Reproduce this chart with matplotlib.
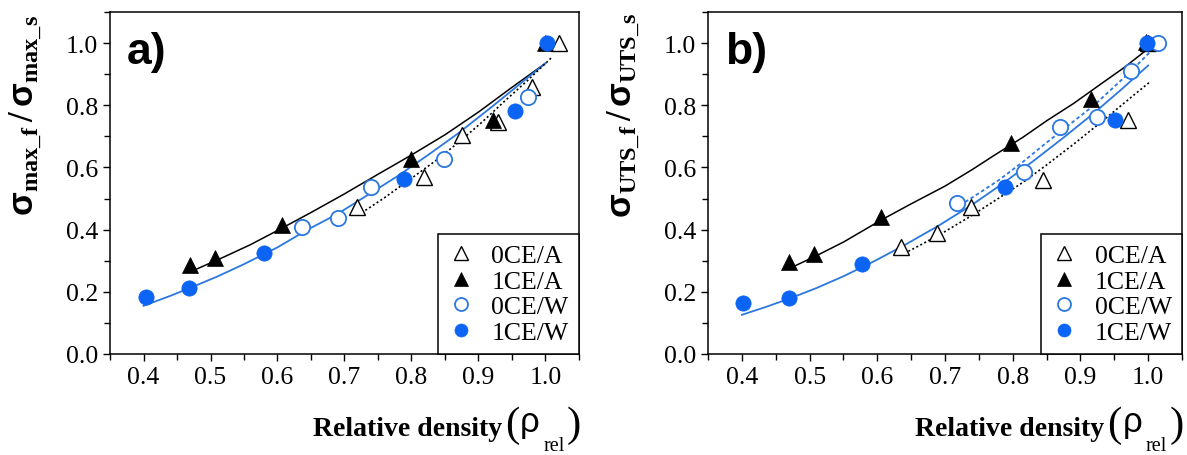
import matplotlib
matplotlib.use('Agg')
import matplotlib.pyplot as plt
from matplotlib.ticker import MultipleLocator, FormatStrFormatter

plt.rcParams['font.family'] = ['Liberation Serif', 'DejaVu Serif']
plt.rcParams['mathtext.fontset'] = 'custom'
plt.rcParams['mathtext.rm'] = 'Liberation Serif'
plt.rcParams['mathtext.bf'] = 'Liberation Serif:bold'
plt.rcParams['mathtext.sf'] = 'Liberation Sans:bold'
plt.rcParams['mathtext.it'] = 'Liberation Sans'

BLACK = 'black'
BLUE_PT = '#0b64f4'
BLUE_LN = '#2b78e0'

# ---- panel a) : sigma_max ----
a_0CE_A_x = [0.719, 0.818, 0.875, 0.929, 0.980, 1.020]
a_0CE_A_y = [0.473, 0.569, 0.703, 0.745, 0.859, 1.000]
a_1CE_A_x = [0.469, 0.506, 0.606, 0.800, 0.922, 1.000]
a_1CE_A_y = [0.286, 0.310, 0.415, 0.626, 0.754, 1.000]
a_0CE_W_x = [0.637, 0.691, 0.740, 0.848, 0.974]
a_0CE_W_y = [0.409, 0.438, 0.537, 0.628, 0.826]
a_1CE_W_x = [0.403, 0.468, 0.580, 0.789, 0.955, 1.003]
a_1CE_W_y = [0.182, 0.211, 0.324, 0.564, 0.780, 1.000]

# fitted curves
a_fit_1CE_A_x = [0.477, 0.52, 0.56, 0.606, 0.65, 0.70, 0.75, 0.80, 0.85, 0.90, 0.949, 1.0]
a_fit_1CE_A_y = [0.271, 0.312, 0.352, 0.404, 0.455, 0.515, 0.578, 0.640, 0.705, 0.778, 0.856, 0.935]
a_fit_1CE_W_x = [0.40, 0.44, 0.47, 0.51, 0.55, 0.60, 0.645, 0.69, 0.73, 0.78, 0.828, 0.87, 0.92, 0.96, 1.0]
a_fit_1CE_W_y = [0.155, 0.187, 0.213, 0.249, 0.289, 0.343, 0.400, 0.451, 0.505, 0.573, 0.645, 0.710, 0.795, 0.865, 0.935]
a_fit_0CE_A_x = [0.72, 0.76, 0.80, 0.835, 0.87, 0.905, 0.94, 0.975, 1.01]
a_fit_0CE_A_y = [0.446, 0.503, 0.565, 0.620, 0.680, 0.745, 0.815, 0.883, 0.955]

# ---- panel b) : sigma_UTS ----
b_0CE_A_x = [0.635, 0.688, 0.739, 0.844, 0.970, 1.000]
b_0CE_A_y = [0.343, 0.388, 0.472, 0.560, 0.753, 1.000]
b_1CE_A_x = [0.470, 0.507, 0.605, 0.797, 0.916, 0.997]
b_1CE_A_y = [0.295, 0.322, 0.440, 0.679, 0.821, 1.005]
b_0CE_W_x = [0.718, 0.817, 0.870, 0.925, 0.975, 1.014]
b_0CE_W_y = [0.485, 0.585, 0.730, 0.762, 0.909, 1.000]
b_1CE_W_x = [0.402, 0.470, 0.578, 0.788, 0.951, 0.999]
b_1CE_W_y = [0.164, 0.179, 0.288, 0.536, 0.754, 1.000]

b_fit_1CE_A_x = [0.474, 0.51, 0.55, 0.605, 0.65, 0.70, 0.74, 0.777, 0.815, 0.85, 0.89, 0.926, 0.965, 1.0]
b_fit_1CE_A_y = [0.279, 0.316, 0.360, 0.430, 0.483, 0.540, 0.593, 0.645, 0.697, 0.750, 0.806, 0.862, 0.922, 0.982]
b_fit_1CE_W_x = [0.40, 0.435, 0.47, 0.51, 0.55, 0.595, 0.64, 0.69, 0.74, 0.785, 0.83, 0.875, 0.92, 0.96, 1.0]
b_fit_1CE_W_y = [0.126, 0.151, 0.178, 0.212, 0.250, 0.298, 0.350, 0.412, 0.480, 0.548, 0.620, 0.696, 0.775, 0.850, 0.928]
b_fit_0CE_W_x = [0.714, 0.745, 0.78, 0.815, 0.85, 0.885, 0.92, 0.97, 1.016]
b_fit_0CE_W_y = [0.467, 0.510, 0.560, 0.618, 0.680, 0.740, 0.800, 0.900, 1.000]
b_fit_0CE_A_x = [0.634, 0.665, 0.70, 0.74, 0.777, 0.815, 0.85, 0.89, 0.93, 0.965, 1.002]
b_fit_0CE_A_y = [0.317, 0.352, 0.394, 0.446, 0.498, 0.552, 0.608, 0.675, 0.745, 0.808, 0.874]

legend_labels = ['0CE/A', '1CE/A', '0CE/W', '1CE/W']
x_ticks = [0.4, 0.5, 0.6, 0.7, 0.8, 0.9, 1.0]
y_ticks = [0.0, 0.2, 0.4, 0.6, 0.8, 1.0]


def style_axes(ax):
    ax.set_xlim(0.35, 1.05)
    ax.set_ylim(0.0, 1.1)
    ax.set_xticks(x_ticks)
    ax.set_yticks(y_ticks)
    ax.xaxis.set_minor_locator(MultipleLocator(0.05))
    ax.yaxis.set_minor_locator(MultipleLocator(0.1))
    ax.xaxis.set_major_formatter(FormatStrFormatter('%.1f'))
    ax.yaxis.set_major_formatter(FormatStrFormatter('%.1f'))
    ax.tick_params(which='both', direction='out', top=False, right=False,
                   width=1.0, labelsize=18.5)
    ax.tick_params(which='major', length=5)
    ax.tick_params(which='minor', length=4)
    for s in ax.spines.values():
        s.set_linewidth(1.1)


def draw_points(ax, xs, ys):
    ax.plot(xs[0], ys[0], '^', ms=12, mfc='white', mec=BLACK, mew=1.0,
            ls='none', label=legend_labels[0])
    ax.plot(xs[1], ys[1], '^', ms=12, mfc=BLACK, mec=BLACK, mew=0.5,
            ls='none', label=legend_labels[1])
    ax.plot(xs[2], ys[2], 'o', ms=11, mfc='white', mec=BLUE_LN, mew=1.3,
            ls='none', label=legend_labels[2])
    ax.plot(xs[3], ys[3], 'o', ms=11, mfc=BLUE_PT, mec=BLUE_PT, mew=0.5,
            ls='none', label=legend_labels[3])


def add_legend(ax):
    leg = ax.legend(loc='lower right', borderaxespad=0, fancybox=False,
                    edgecolor='black', framealpha=1, fontsize=18.5,
                    handlelength=1.0, handletextpad=0.7, labelspacing=0.1,
                    borderpad=0.4, markerscale=0.85)
    leg.get_frame().set_linewidth(1.1)


def add_xlabel(ax):
    # "Relative density (rho_rel)" built in pieces, with large parentheses
    tr = ax.transAxes
    ax.text(0.836, -0.237, 'Relative density', transform=tr, ha='right',
            va='baseline', fontsize=20, fontweight='bold')
    ax.text(0.843, -0.237, '(', transform=tr, ha='left', va='baseline',
            fontsize=31)
    ax.text(0.874, -0.226, '\u03c1', transform=tr, ha='left', va='baseline',
            fontsize=25, family='Liberation Sans')
    ax.text(0.924, -0.280, 'rel', transform=tr, ha='left', va='baseline',
            fontsize=14.5)
    ax.text(0.973, -0.237, ')', transform=tr, ha='left', va='baseline',
            fontsize=31)


fig = plt.figure(figsize=(11.87, 4.56), dpi=100)
ax_a = fig.add_axes([0.0927, 0.2215, 0.395, 0.75])
ax_b = fig.add_axes([0.5965, 0.2215, 0.3993, 0.75])

# panel a
ax_a.plot(a_fit_1CE_A_x, a_fit_1CE_A_y, '-', color=BLACK, lw=1.1)
ax_a.plot(a_fit_1CE_W_x, a_fit_1CE_W_y, '-', color=BLUE_LN, lw=1.3)
ax_a.plot(a_fit_0CE_A_x, a_fit_0CE_A_y, ls=(0, (1.2, 1.5)), color=BLACK, lw=1.2)
draw_points(ax_a, [a_0CE_A_x, a_1CE_A_x, a_0CE_W_x, a_1CE_W_x],
            [a_0CE_A_y, a_1CE_A_y, a_0CE_W_y, a_1CE_W_y])

# panel b
ax_b.plot(b_fit_1CE_A_x, b_fit_1CE_A_y, '-', color=BLACK, lw=1.1)
ax_b.plot(b_fit_1CE_W_x, b_fit_1CE_W_y, '-', color=BLUE_LN, lw=1.3)
ax_b.plot(b_fit_0CE_W_x, b_fit_0CE_W_y, ls=(0, (2, 1.5)), color=BLUE_LN, lw=1.3)
ax_b.plot(b_fit_0CE_A_x, b_fit_0CE_A_y, ls=(0, (1.2, 1.5)), color=BLACK, lw=1.2)
draw_points(ax_b, [b_0CE_A_x, b_1CE_A_x, b_0CE_W_x, b_1CE_W_x],
            [b_0CE_A_y, b_1CE_A_y, b_0CE_W_y, b_1CE_W_y])

ylabels = [r'$\mathsf{\sigma}_{\mathbf{max\_f}}\,\mathbf{/}\,\mathsf{\sigma}_{\mathbf{max\_s}}$',
           r'$\mathsf{\sigma}_{\mathbf{UTS\_f}}\,\mathbf{/}\,\mathsf{\sigma}_{\mathbf{UTS\_s}}$']
tags = ['a)', 'b)']

for ax, ylab, tag in zip([ax_a, ax_b], ylabels, tags):
    style_axes(ax)
    add_legend(ax)
    ax.set_ylabel(ylab, fontsize=25)
    ax.yaxis.set_label_coords(-0.14, 0.70)
    add_xlabel(ax)
    ax.text(0.035, 0.885, tag, transform=ax.transAxes, ha='left', va='center',
            fontsize=32, fontweight='bold', family='Liberation Sans')

fig.savefig('out.png', dpi=100)
